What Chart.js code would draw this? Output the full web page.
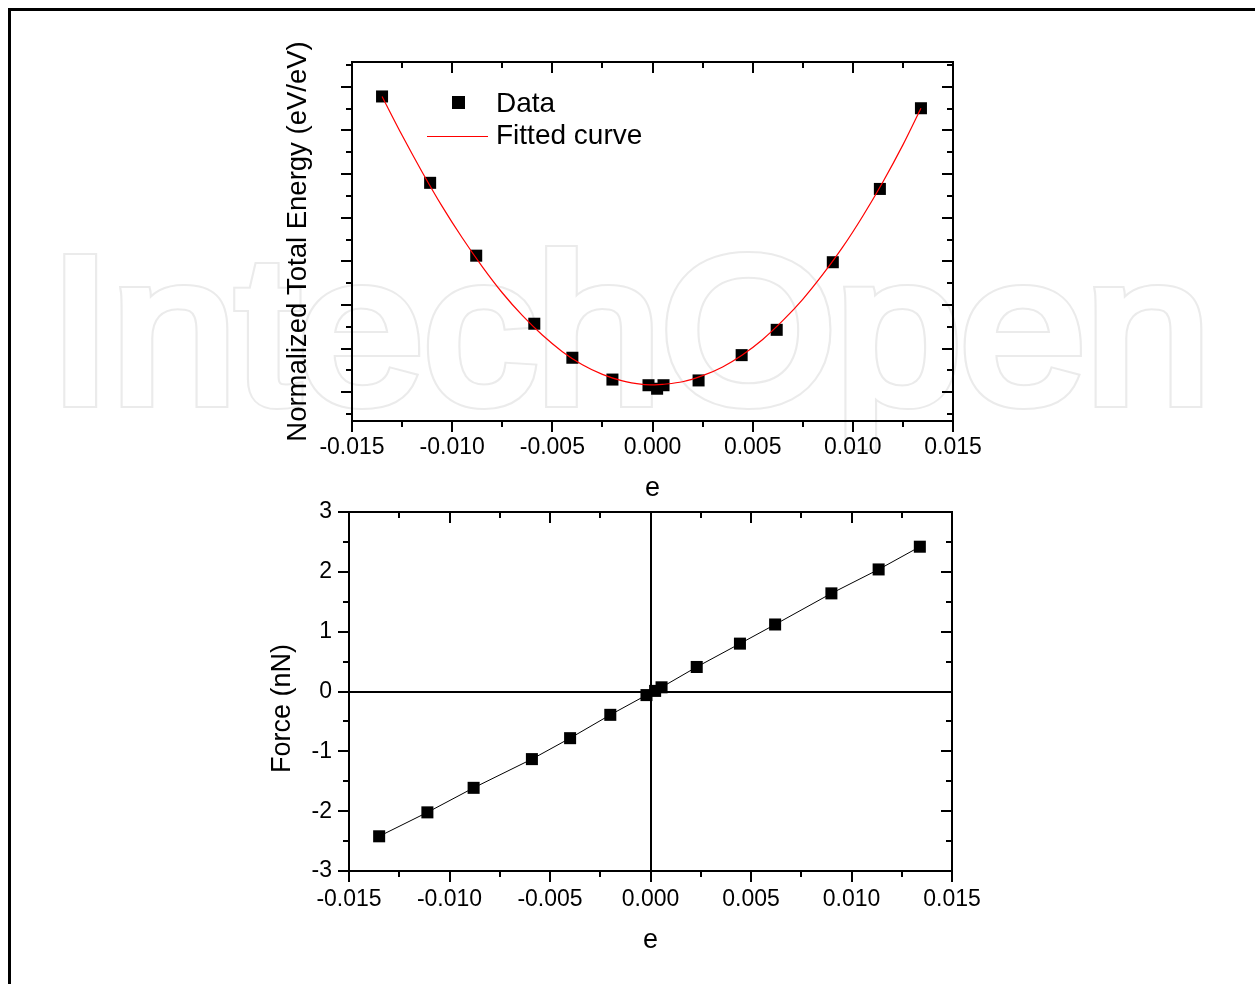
<!DOCTYPE html>
<html>
<head>
<meta charset="utf-8">
<script src="https://cdn.jsdelivr.net/npm/chart.js@4.4.0/dist/chart.umd.min.js"></script>
<style>
  html, body { margin: 0; padding: 0; background: #fff; }
  #page { position: relative; width: 1255px; height: 984px; overflow: hidden; }
  .frame { position: absolute; left: 8px; top: 8px; width: 1400px; height: 1100px;
           border-top: 3px solid #000; border-left: 3px solid #000; }
  .mark { position: absolute; left: 49px; top: 226px; white-space: nowrap;
          font: 208px/208px 'Liberation Sans', Arial, sans-serif;
          transform: scaleX(1.08); transform-origin: 0 0; }
  .mark.ring { color: #ebebeb; -webkit-text-stroke: 12px #ebebeb; }
  .mark.hole { color: #fff; -webkit-text-stroke: 8px #fff; }
  canvas { position: absolute; left: 0; top: 0; }
</style>
</head>
<body>
<div id="page">
  <div class="frame"></div>
  <div class="mark ring">IntechOpen</div>
  <div class="mark hole">IntechOpen</div>
  <canvas id="energyChart" width="1255" height="984"></canvas>
  <canvas id="forceChart" width="1255" height="984"></canvas>
</div>
<script>
// strain values, shared by both panels
const strain = [-0.0135, -0.0111, -0.0088, -0.0059, -0.0040, -0.0020, -0.0002, 0.00023, 0.00055,
                0.0023, 0.00445, 0.0062, 0.0090, 0.01135, 0.0134];
// normalized total energy (axis has no labels, so units are tick steps)
const energy = [6.78, 4.80, 3.13, 1.57, 0.79, 0.29, 0.16, 0.08, 0.16, 0.27, 0.85, 1.43, 2.98, 4.66, 6.51];
// force in nN
const force = [-2.42, -2.02, -1.61, -1.13, -0.78, -0.39, -0.06, 0.01, 0.07, 0.41, 0.80, 1.12, 1.64, 2.04, 2.42];

// fitted curve
const fitStrain = [-0.0135, -0.0125, -0.0115, -0.0105, -0.0095, -0.0085, -0.0075, -0.0065, -0.0055, -0.0045,
                   -0.0035, -0.0025, -0.0015, -0.0005, 0.0001, 0.0005, 0.0015, 0.0025, 0.0035, 0.0045,
                   0.0055, 0.0065, 0.0075, 0.0085, 0.0095, 0.0105, 0.0115, 0.0125, 0.0134];
const fitEnergy = [6.78, 5.89, 5.05, 4.26, 3.54, 2.88, 2.28, 1.76, 1.31, 0.93,
                   0.63, 0.41, 0.26, 0.18, 0.17, 0.18, 0.24, 0.38, 0.58, 0.86,
                   1.21, 1.64, 2.13, 2.70, 3.33, 4.04, 4.82, 5.67, 6.51];

// tick marks
const strainMajor = [-0.015, -0.010, -0.005, 0, 0.005, 0.010, 0.015];
const strainMinor = [-0.0125, -0.0075, -0.0025, 0.0025, 0.0075, 0.0125];
const energyMajor = [0, 1, 2, 3, 4, 5, 6, 7];
const energyMinor = [-0.5, 0.5, 1.5, 2.5, 3.5, 4.5, 5.5, 6.5, 7.5];
const forceMajor = [-3, -2, -1, 0, 1, 2, 3];
const forceMinor = [-2.5, -1.5, -0.5, 0.5, 1.5, 2.5];

const FONT = "'Liberation Sans', Arial, sans-serif";

// Origin-style box: outward ticks bottom/left, inward ticks top/right
const frameAndTicks = {
  id: 'frameAndTicks',
  beforeDatasetsDraw(chart, args, opts) {
    const {ctx, chartArea: a, scales: {x, y}} = chart;
    ctx.save();
    ctx.strokeStyle = '#000';
    ctx.lineWidth = 2;
    ctx.beginPath();
    const xTick = (v, len) => {
      const p = Math.round(x.getPixelForValue(v));
      ctx.moveTo(p, a.bottom); ctx.lineTo(p, a.bottom + len);
      ctx.moveTo(p, a.top); ctx.lineTo(p, a.top + len);
    };
    const yTick = (v, len) => {
      const p = Math.round(y.getPixelForValue(v));
      ctx.moveTo(a.left - len, p); ctx.lineTo(a.left, p);
      ctx.moveTo(a.right - len, p); ctx.lineTo(a.right, p);
    };
    opts.xMajor.forEach(v => xTick(v, 11));
    opts.xMinor.forEach(v => xTick(v, 6));
    opts.yMajor.forEach(v => yTick(v, 11));
    opts.yMinor.forEach(v => yTick(v, 6));
    if (opts.zeroLines) {
      const zx = Math.round(x.getPixelForValue(0));
      const zy = Math.round(y.getPixelForValue(0));
      ctx.moveTo(zx, a.top); ctx.lineTo(zx, a.bottom);
      ctx.moveTo(a.left, zy); ctx.lineTo(a.right, zy);
    }
    ctx.stroke();
    ctx.strokeRect(a.left, a.top, a.right - a.left, a.bottom - a.top);
    ctx.restore();
  }
};

const fitLegend = {
  id: 'fitLegend',
  afterDatasetsDraw(chart) {
    const {ctx, chartArea: a} = chart;
    ctx.save();
    ctx.fillStyle = '#000';
    ctx.fillRect(a.left + 100, a.top + 34, 13, 13);
    ctx.strokeStyle = '#ff0000';
    ctx.lineWidth = 1;
    ctx.beginPath();
    ctx.moveTo(a.left + 75, a.top + 74.5);
    ctx.lineTo(a.left + 136, a.top + 74.5);
    ctx.stroke();
    ctx.font = '28px ' + FONT;
    ctx.textBaseline = 'alphabetic';
    ctx.fillText('Data', a.left + 144, a.top + 50);
    ctx.fillText('Fitted curve', a.left + 144, a.top + 82);
    ctx.restore();
  }
};

const forceTitle = {
  id: 'forceTitle',
  afterDraw(chart) {
    const {ctx, chartArea: a} = chart;
    ctx.save();
    ctx.translate(a.left - 66, (a.top + a.bottom) / 2 + 17);
    ctx.rotate(-Math.PI / 2);
    ctx.font = '27px ' + FONT;
    ctx.fillStyle = '#000';
    ctx.textAlign = 'center';
    ctx.textBaseline = 'middle';
    ctx.fillText('Force (nN)', 0, 0);
    ctx.restore();
  }
};

function strainAxis(pad, height) {
  return {
    type: 'linear', min: -0.015, max: 0.015,
    grid: {display: false, drawTicks: false},
    border: {display: false},
    ticks: {
      stepSize: 0.005, padding: pad, color: '#000', maxRotation: 0, autoSkip: false,
      font: {family: FONT, size: 23},
      callback: v => Math.abs(v) < 1e-9 ? '0.000' : v.toFixed(3)
    },
    title: {display: true, text: 'e', color: '#000', font: {family: FONT, size: 27}, padding: {top: 0, bottom: 0}},
    afterFit: s => { s.height = height; }
  };
}

new Chart(document.getElementById('energyChart'), {
  type: 'scatter',
  data: {
    datasets: [{
      label: 'Fitted curve',
      data: fitStrain.map((e, i) => ({x: e, y: fitEnergy[i]})),
      showLine: true, borderColor: '#ff0000', borderWidth: 1.2, pointRadius: 0, tension: 0.3, order: 0
    }, {
      label: 'Data',
      data: strain.map((e, i) => ({x: e, y: energy[i]})),
      pointStyle: 'rect', pointRadius: 8.5, pointBackgroundColor: '#000', pointBorderWidth: 0, order: 1
    }]
  },
  options: {
    responsive: false, animation: false, events: [],
    layout: {padding: {left: 282, right: 302, top: 62, bottom: 479}},
    plugins: {
      legend: {display: false}, tooltip: {enabled: false},
      frameAndTicks: {xMajor: strainMajor, xMinor: strainMinor, yMajor: energyMajor, yMinor: energyMinor}
    },
    scales: {
      x: strainAxis(13, 84),
      y: {
        type: 'linear', min: -0.66, max: 7.57,
        grid: {display: false, drawTicks: false},
        border: {display: false},
        ticks: {display: false},
        title: {display: true, text: 'Normalized Total Energy (eV/eV)', color: '#000',
                font: {family: FONT, size: 27.5}, padding: {top: 0, bottom: 0}},
        afterFit: s => { s.width = 70; }
      }
    }
  },
  plugins: [frameAndTicks, fitLegend]
});

new Chart(document.getElementById('forceChart'), {
  type: 'scatter',
  data: {
    datasets: [{
      label: 'Force',
      data: strain.map((e, i) => ({x: e, y: force[i]})),
      showLine: true, borderColor: '#000', borderWidth: 1, tension: 0,
      pointStyle: 'rect', pointRadius: 8.5, pointBackgroundColor: '#000', pointBorderWidth: 0
    }]
  },
  options: {
    responsive: false, animation: false, events: [],
    layout: {padding: {left: 267, right: 303, top: 512, bottom: 27}},
    plugins: {
      legend: {display: false}, tooltip: {enabled: false},
      frameAndTicks: {xMajor: strainMajor, xMinor: strainMinor, yMajor: forceMajor, yMinor: forceMinor, zeroLines: true}
    },
    scales: {
      x: strainAxis(15, 86),
      y: {
        type: 'linear', min: -3, max: 3,
        grid: {display: false, drawTicks: false},
        border: {display: false},
        ticks: {stepSize: 1, padding: 17, color: '#000', font: {family: FONT, size: 23},
                callback: v => v.toFixed(0)},
        title: {display: false},
        afterFit: s => { s.width = 82; }
      }
    }
  },
  plugins: [frameAndTicks, forceTitle]
});
</script>
</body>
</html>
